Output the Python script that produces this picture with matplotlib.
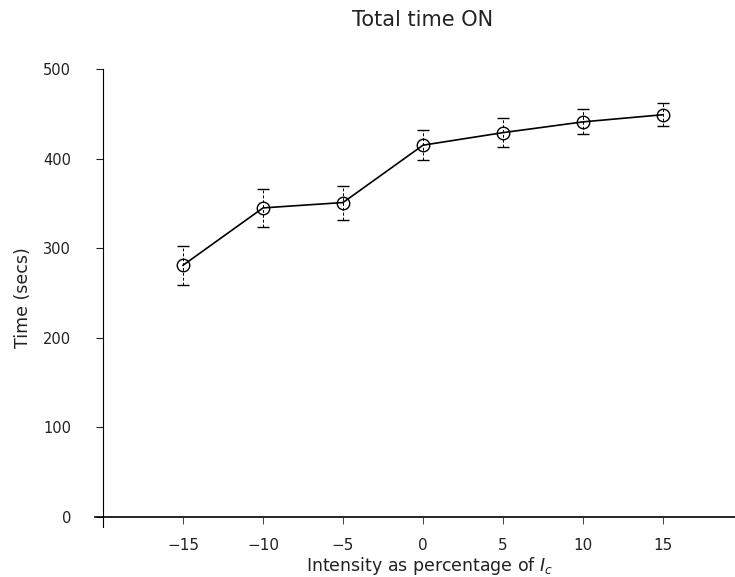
import numpy as np
import matplotlib
matplotlib.use("Agg")
import matplotlib.pyplot as plt

# intensity (% of Ic) vs total time ON (secs)
intensity = [-15, -10, -5, 0, 5, 10, 15]
time_on = [281, 345, 351, 415, 429, 441, 449]
time_err = [22, 21, 19, 17, 16, 14, 13]

xticks = [-15, -10, -5, 0, 5, 10, 15]
yticks = [0, 100, 200, 300, 400, 500]

plt.rcParams['font.family'] = ['DejaVu Sans']

fig = plt.figure(figsize=(7.35, 5.77), dpi=100)
ax = fig.add_axes([0.1293, 0.0868, 0.8707, 0.7936])

ax.plot(intensity, time_on, color='black', lw=1.2, zorder=2)
eb = ax.errorbar(intensity, time_on, yerr=time_err, fmt='o', mfc='none',
                 mec='black', mew=1.0, ms=9, ecolor='black', elinewidth=0.7,
                 capsize=4.5, capthick=1.8, zorder=3)
for lc in eb[2]:
    lc.set_linestyle((0, (3, 2)))

ax.set_xlim(-20.5, 19.5)
ax.set_ylim(-11, 500)
ax.spines['left'].set_position(('data', -20))
ax.spines['bottom'].set_position(('data', 0))
ax.spines['top'].set_visible(False)
ax.spines['right'].set_visible(False)
ax.spines['left'].set_linewidth(0.8)
ax.spines['bottom'].set_linewidth(1.2)

ax.set_xticks(xticks)
ax.set_yticks(yticks)
ax.tick_params(axis='y', direction='out', length=5, width=0.8, pad=18,
               labelsize=10.5, colors='#222222')
ax.tick_params(axis='x', direction='out', length=5, width=0.6, pad=10,
               labelsize=11, colors='#222222')

# title and x label centred over x = 0, as in the original
xc = (0 - (-20.5)) / 40.0
ax.set_title('Total time ON', fontsize=15, x=xc, pad=31, color='#222222')
ax.set_xlabel('Intensity as percentage of $I_c$', fontsize=12.5,
              color='#222222')
ax.xaxis.set_label_coords(xc + 0.01, -0.062)
ax.set_ylabel('Time (secs)', fontsize=12.5, labelpad=8, color='#222222')

fig.savefig('out.png', dpi=100)
